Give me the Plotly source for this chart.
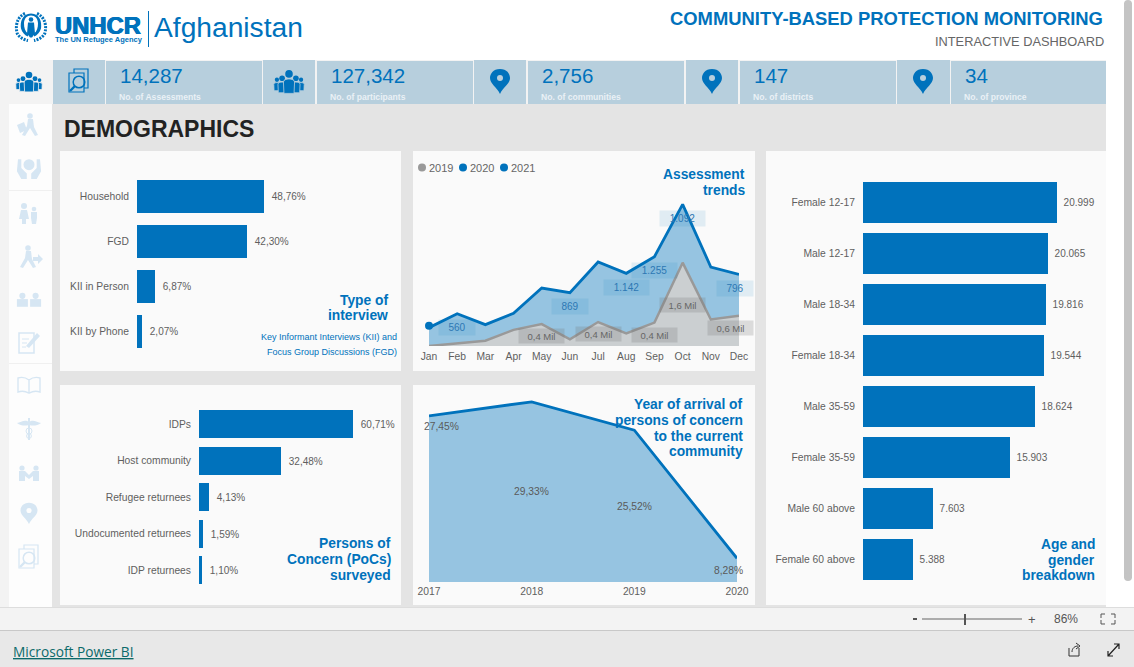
import plotly.graph_objects as go
import re

W, H = 1134, 667
BLUE = "#0072bc"
TEXT = "#5f5f5f"
FONT = "Liberation Sans, Arial, sans-serif"

interview_cats = ["Household", "FGD", "KII in Person", "KII by Phone"]
interview_vals = [48.76, 42.30, 6.87, 2.07]

poc_cats = ["IDPs", "Host community", "Refugee returnees", "Undocumented returnees", "IDP returnees"]
poc_vals = [60.71, 32.48, 4.13, 1.59, 1.10]

age_cats = ["Female 12-17", "Male 12-17", "Male 18-34", "Female 18-34", "Male 35-59", "Female 35-59", "Male 60 above", "Female 60 above"]
age_vals = [20999, 20065, 19816, 19544, 18624, 15903, 7603, 5388]

months = ["Jan", "Feb", "Mar", "Apr", "May", "Jun", "Jul", "Aug", "Sep", "Oct", "Nov", "Dec"]
assess_2020 = [275, 485, 320, 490, 870, 800, 1260, 1090, 1340, 2125, 1185, 1075]
assess_2021 = [305]
assess_2019 = [0.0, 0.05, 0.10, 0.31, 0.42, 0.13, 0.46, 0.24, 0.45, 1.60, 0.51, 0.58]
blue_labels = {"Feb": "560", "Jun": "869", "Aug": "1.142", "Sep": "1.255", "Oct": "1.092", "Dec": "796"}
gray_labels = {"May": "0,4 Mil", "Jul": "0,4 Mil", "Sep": "0,4 Mil", "Oct": "1,6 Mil", "Dec": "0,6 Mil"}

arrival_years = ["2017", "2018", "2019", "2020"]
arrival_vals = [27.45, 29.33, 25.52, 8.28]

kpi_values = ["14,287", "127,342", "2,756", "147", "34"]
kpi_labels = ["No. of Assessments", "No. of participants", "No. of communities", "No. of districts", "No. of province"]


def px(x): return x / W
def py(y): return 1 - y / H

shapes, annos = [], []

def rect(x0, y0, x1, y1, color, layer="below"):
    shapes.append(dict(type="rect", xref="paper", yref="paper", x0=px(x0), x1=px(x1), y0=py(y0), y1=py(y1),
                       fillcolor=color, line=dict(width=0), layer=layer))

def circ(cx, cy, r, color, line=None, lw=1.2, layer="below"):
    shapes.append(dict(type="circle", xref="paper", yref="paper", x0=px(cx-r), x1=px(cx+r), y0=py(cy+r), y1=py(cy-r),
                       fillcolor=color, line=dict(width=lw if line else 0, color=line or color), layer=layer))

def path(cx, cy, s, d, color=None, line=None, lw=1.2, layer="below", dash=None):
    toks = re.findall(r"[MLCZ]|-?\d+\.?\d*", d)
    out, buf = [], []
    for t in toks:
        if t in "MLCZ":
            out.append(t)
        else:
            buf.append(float(t))
            if len(buf) == 2:
                out.append(f"{px(cx+buf[0]*s):.5f},{py(cy+buf[1]*s):.5f}")
                buf = []
    ln = dict(width=lw if line else 0, color=line or "rgba(0,0,0,0)")
    if dash:
        ln["dash"] = dash
    shapes.append(dict(type="path", xref="paper", yref="paper", path=" ".join(out),
                       fillcolor=color or "rgba(0,0,0,0)", line=ln, layer=layer))

def text(x, y, t, size=10, color=TEXT, align="left", bold=False, family=FONT, shadow=None):
    shift = {"left": -2, "right": 2.5, "center": 0}[align]
    font = dict(size=size, color=color, family=family)
    if shadow:
        font["shadow"] = shadow
    annos.append(dict(xref="paper", yref="paper", x=px(x), y=py(y), xshift=shift, text=f"<b>{t}</b>" if bold else t,
                      xanchor=align, yanchor="middle", showarrow=False, align=align, font=font))

# ---- icons -------------------------------------------------------------
def person(cx, cy, s, c, bg=None):
    circ(cx, cy-6.4*s, 3*s, c)
    path(cx, cy, s, "M-4.4 0 C-4.4 -3.2 4.4 -3.2 4.4 0 L4 9 L-4 9 Z", c, bg, .8 if bg else 0)

def group(cx, cy, s, c, bg):
    for dx, k in ((-10.5, .62), (10.5, .62), (-6, .82), (6, .82)):
        person(cx+dx*s, cy+2*s, s*k, c, bg)
    person(cx, cy, s*1.1, c, bg)

def pin(cx, cy, s, c, hole):
    path(cx, cy, s, "M0 -12 C-7 -12 -10 -7 -10 -3 C-10 3 -3 6 0 13 C3 6 10 3 10 -3 C10 -7 7 -12 0 -12 Z", c)
    circ(cx, cy-3*s, 3*s, hole)

def searchdoc(cx, cy, s, c):
    path(cx, cy, s, "M-5 -8 L-5 -12 L9 -12 L9 7 L5 7", None, c, 1.2)
    path(cx, cy, s, "M-10 -8 L5 -8 L5 11 L-10 11 Z", None, c, 1.2)
    circ(cx, cy+1*s, 5.8*s, "rgba(0,0,0,0)", c, 1.5)
    path(cx, cy, s, "M-4 5 L-9 10", None, c, 2.4)

def walker(cx, cy, s, c, arrow=False):
    circ(cx+1*s, cy-9*s, 2.8*s, c)
    path(cx, cy, s, "M-1 -6 L4 -6 L5 2 L9 10 L6 11 L1 3 L-4 11 L-7 10 L-2 1 Z", c)
    if arrow:
        path(cx, cy, s, "M6 0 L11 0 L11 -3 L16 2 L11 7 L11 4 L6 4 Z", c)
    else:
        path(cx, cy, s, "M-12 0 L-5 -3 L-2 5 L-9 8 Z", c)

def hands(cx, cy, s, c):
    circ(cx, cy-3*s, 5*s, c)
    path(cx, cy, s, "M-10 -8 L-7 -8 L-7 0 L-2 5 L-2 10 L-7 10 L-11 3 Z", c)
    path(cx, cy, s, "M10 -8 L7 -8 L7 0 L2 5 L2 10 L7 10 L11 3 Z", c)

def family(cx, cy, s, c):
    circ(cx-5*s, cy-7*s, 3*s, c)
    path(cx, cy, s, "M-8 -3 L-2 -3 L0 6 L-3 6 L-3 11 L-7 11 L-7 6 L-10 6 Z", c)
    circ(cx+5*s, cy-4*s, 2.3*s, c)
    path(cx, cy, s, "M2 -1 L8 -1 L8 5 L7 11 L3 11 L2 5 Z", c)

def talk(cx, cy, s, c):
    for dx in (-6, 6):
        circ(cx+dx*s, cy-2*s, 2.8*s, c)
        path(cx+dx*s, cy, s, "M-5 1 L5 1 L5 8 L-5 8 Z", c)

def docpen(cx, cy, s, c):
    path(cx, cy, s, "M-9 -9 L6 -9 L6 11 L-9 11 Z", None, c, 1.5)
    path(cx, cy, s, "M-6 -3 L1 -3 M-6 1 L-1 1 M-6 5 L-2 5", None, c, 1)
    path(cx, cy, s, "M-2 4 L9 -9 L12 -6 L1 6 Z", c)

def book(cx, cy, s, c):
    path(cx, cy, s, "M0 -5 C-4 -8 -8 -8 -11 -7 L-11 7 C-8 6 -4 6 0 8 C4 6 8 6 11 7 L11 -7 C8 -8 4 -8 0 -5 L0 8", None, c, 1.4)

def caduceus(cx, cy, s, c):
    path(cx, cy, s, "M-1 -10 L1 -10 L1 12 L-1 12 Z", c)
    path(cx, cy, s, "M0 -6 C-4 -9 -8 -6 -12 -5 C-8 -2 -4 -2 0 -3 C4 -2 8 -2 12 -5 C8 -6 4 -9 0 -6 Z", c)
    circ(cx, cy+3*s, 3*s, "rgba(0,0,0,0)", c, 1)
    circ(cx, cy+8*s, 2.4*s, "rgba(0,0,0,0)", c, 1)

def handshake(cx, cy, s, c):
    for dx in (-7, 7):
        circ(cx+dx*s, cy-4*s, 2.6*s, c)
    path(cx, cy, s, "M-10 -1 L-4 -1 L0 3 L4 -1 L10 -1 L10 9 L4 9 L4 4 L0 7 L-4 4 L-4 9 L-10 9 Z", c)

# ---- page frame --------------------------------------------------------
rect(0, 0, W, H, "#ffffff")
rect(0, 60, 1106, 607, "#f3f3f3")
rect(52, 104, 1106, 607, "#e4e4e4")
rect(9, 104, 52, 607, "#fdfdfd")
for yy in (190, 363):
    rect(9, yy, 52, yy+1, "#f0f0f0")
rect(1124, 3, 1132, 578, "#c4c4c4")
circ(1128, 4, 4, "#c4c4c4")
circ(1128, 577, 4, "#c4c4c4")
rect(0, 607, W, 630, "#f3f3f3")
rect(0, 630, W, 667, "#e8e8e8")
rect(0, 607, W, 608, "#dddddd")
rect(0, 630, W, 631, "#c8c8c8")

# KPI tiles
KPI = "#b7cfdd"
tiles = [(53, 105, 106, 262), (263, 315, 317, 473), (474, 526, 528, 684), (686, 738, 740, 896), (897, 950, 951, 1106)]
for (a, b, c, d), v, l in zip(tiles, kpi_values, kpi_labels):
    rect(a, 60, b, 104, KPI)
    rect(c, 61, d, 104, KPI)
    text(c+14, 76, v, size=20.5, color=BLUE)
    text(c+13, 97, l, size=8.6, color="#eaf1f6", bold=True)
group(29, 82, 1.0, BLUE, "#f3f3f3")
searchdoc(79, 81, 1.0, BLUE)
group(289, 82, 1.15, BLUE, KPI)
pin(500, 81, 1.0, BLUE, KPI)
pin(712, 81, 1.0, BLUE, KPI)
pin(923, 81, 1.0, BLUE, KPI)

# Sidebar icons
SB = "#d6e6f3"
walker(29, 125, 1.0, SB)
hands(29, 168, 1.1, SB)
family(29, 213, 1.0, SB)
walker(27, 257, 1.0, SB, arrow=True)
talk(29, 298, 1.1, SB)
docpen(28, 342, 1.0, SB)
book(29, 385, 1.0, SB)
caduceus(29, 428, 1.0, SB)
handshake(29, 472, 1.0, SB)
pin(29, 513, .85, SB, "#fdfdfd")
searchdoc(29, 557, 1.0, SB)

# Cards
for x0, y0, x1, y1 in [(60, 151, 401, 371), (60, 385, 401, 605), (413, 151, 755, 371), (413, 385, 755, 605), (766, 151, 1106, 605)]:
    rect(x0, y0, x1, y1, "#fafafa")

# Header emblem
EC = (31, 26.5)
path(*EC, 1, "M-6 -13 C-13 -10 -16 -2 -14 6 C-13 10 -8 13 -3 14", None, BLUE, 3, dash="2px,1.2px")
path(*EC, 1, "M6 -13 C13 -10 16 -2 14 6 C13 10 8 13 3 14", None, BLUE, 3, dash="2px,1.2px")
path(*EC, 1, "M0 -13 C-9 -13 -11 -4 -10 2 C-9 6 -6 9 -3 10 L-3 7 C-6 5 -7 1 -7 -3 C-7 -8 -4 -11 0 -11 C4 -11 7 -8 7 -3 C7 1 6 5 3 7 L3 10 C6 9 9 6 10 2 C11 -4 9 -13 0 -13 Z", BLUE)
circ(EC[0], EC[1]-7, 2.3, BLUE)
path(*EC, 1, "M-3 -4 L3 -4 L4 7 L1 11 L-1 11 L-4 7 Z", BLUE)
text(55, 25, "UNHCR", size=23.8, color=BLUE, bold=True, shadow=f"0.6px 0 0 {BLUE}, -0.6px 0 0 {BLUE}")
text(55, 39, "The UN Refugee Agency", size=7.5, color=BLUE, bold=True)
rect(148, 11, 149, 47, BLUE)
text(154, 27, "Afghanistan", size=28.2, color=BLUE)
text(1102, 18, "COMMUNITY-BASED PROTECTION MONITORING", size=18.4, color=BLUE, align="right", bold=True)
text(1103, 42, "INTERACTIVE DASHBOARD", size=12.8, color="#666666", align="right")
text(64, 129, "DEMOGRAPHICS", size=23, color="#222222", bold=True)

# Card titles
def title(xr, ys, lines, size=13.8):
    for y, l in zip(ys, lines):
        text(xr, y, l, size=size, color=BLUE, align="right", bold=True)

title(387, [300, 316], ["Type of", "interview"])
text(396, 337, "Key Informant Interviews (KII) and", size=9, color=BLUE, align="right")
text(396, 352, "Focus Group Discussions (FGD)", size=9, color=BLUE, align="right")
title(390, [543, 559, 575], ["Persons of", "Concern (PoCs)", "surveyed"])
title(744, [174, 190], ["Assessment", "trends"])
title(742, [404, 420, 436, 451], ["Year of arrival of", "persons of concern", "to the current", "community"])
title(1094, [544, 560, 575], ["Age and", "gender", "breakdown"])

# Legend
for x, lab, c in [(422, "2019", "#999999"), (463, "2020", BLUE), (504, "2021", BLUE)]:
    circ(x, 167.5, 4, c)
    text(x+7, 167.5, lab, size=11, color="#666666")

# Footer
annos.append(dict(xref="paper", yref="paper", x=px(13), y=py(651), xshift=-2, xanchor="left", yanchor="middle", showarrow=False,
                  text="<u>Microsoft Power BI</u>", font=dict(size=13.7, color="#0b6a6a", family="Open Sans, sans-serif")))
rect(913, 618, 917, 620, "#555555")
rect(922, 618.5, 1022, 619.5, "#666666")
rect(964, 614, 966, 625, "#555555")
text(1032, 619, "+", size=13, color="#555555", align="center")
text(1066, 619, "86%", size=12, color="#555555", align="center")
path(1108, 619, 1, "M-7 -5 L-3 -5 M3 -5 L7 -5 L7 -1 M7 1 L7 5 L3 5 M-3 5 L-7 5 L-7 1 M-7 -1 L-7 -5", None, "#555555", 1)
path(1074, 650, 1, "M-5 -2 L-5 6 L5 6 L5 -2 M-2 2 C-2 -2 1 -4 4 -4 M2 -7 L6 -4 L2 -1", None, "#333333", 1)
path(1113, 650, 1, "M-5 6 L6 -6 M1 -6 L6 -6 L6 -1 M-5 1 L-5 6 L0 6", None, "#222222", 1.2)

# ---- charts ------------------------------------------------------------
fig = go.Figure()

def fmt_pct(v):
    return "\u00a0\u2009" + f"{v:.2f}".replace(".", ",") + "%"

def fmt_int(v):
    return "\u00a0\u200a" + f"{v:,}".replace(",", ".")

def hbar(cats, vals, labels, xa, ya, dom_x, dom_y, xmax, gap):
    fig.add_trace(go.Bar(y=cats, x=vals, orientation="h", text=labels, textposition="outside", cliponaxis=False,
                         textfont=dict(size=10, color=TEXT, family=FONT), marker=dict(color=BLUE, line=dict(width=0)),
                         xaxis=xa, yaxis=ya, showlegend=False, width=1-gap))
    n_x = xa.replace("x", "xaxis")
    n_y = ya.replace("y", "yaxis")
    fig.layout[n_x] = dict(domain=[px(dom_x[0]), px(dom_x[1])], range=[0, xmax], visible=False, anchor=ya, fixedrange=True,
                           automargin=False)
    fig.layout[n_y] = dict(domain=[py(dom_y[1]), py(dom_y[0])], autorange="reversed", anchor=xa, showline=False, ticks="",
                           ticklen=0, tickfont=dict(size=10.3, color=TEXT, family=FONT), showgrid=False, zeroline=False,
                           ticklabelstandoff=7, fixedrange=True, automargin=False)

hbar(interview_cats, interview_vals, [fmt_pct(v) for v in interview_vals], "x", "y", (137, 395), (173.5, 353.5), 48.76*258/127, .245)
hbar(poc_cats, poc_vals, [fmt_pct(v) for v in poc_vals], "x2", "y2", (199, 395), (406, 588.5), 60.71*196/154, .235)
hbar(age_cats, age_vals, [fmt_int(v) for v in age_vals], "x3", "y3", (863, 1100), (176.5, 584.5), 20999*237/194, .215)

# assessment trends
AX_L, AX_R, AX_B = 429, 739, 346
AX_T = 190
blue_max = 5.0 * (AX_B-AX_T) * 3
gray_max = 1.6 / 250 * (AX_B-AX_T) * 3
fig.add_trace(go.Scatter(x=months, y=assess_2020, mode="lines", fill="tozeroy", fillcolor="rgba(0,114,188,0.40)",
                         line=dict(color=BLUE, width=2.8), xaxis="x4", yaxis="y4", showlegend=False, name="2020"))
fig.add_trace(go.Scatter(x=months[:1], y=assess_2021, mode="markers", marker=dict(color=BLUE, size=8),
                         xaxis="x4", yaxis="y4", showlegend=False, name="2021", cliponaxis=False))
fig.add_trace(go.Scatter(x=months, y=assess_2019, mode="lines", fill="tozeroy", fillcolor="rgba(207,207,207,0.92)",
                         line=dict(color="#999999", width=2.5), xaxis="x4", yaxis="y5", showlegend=False, name="2019"))
fig.update_layout(
    xaxis4=dict(domain=[px(AX_L), px(AX_R)], range=[0, 11], type="category", categoryorder="array", categoryarray=months,
                anchor="y4", showline=False, ticks="", showgrid=False, zeroline=False, tickfont=dict(size=10.3, color=TEXT, family=FONT),
                ticklabelstandoff=3, fixedrange=True, automargin=False),
    yaxis4=dict(domain=[py(AX_B), py(AX_T)], range=[0, blue_max], visible=False, anchor="x4", fixedrange=True, automargin=False),
    yaxis5=dict(domain=[py(AX_B), py(AX_T)], range=[0, gray_max], visible=False, overlaying="y4", anchor="x4", fixedrange=True, automargin=False),
)
for m, lab in blue_labels.items():
    i = months.index(m)
    annos.append(dict(xref="x4", yref="y4", x=m, y=assess_2020[i], yshift=-14, xshift=-4 if m == "Dec" else 0,
                      text=lab, showarrow=False, bgcolor="rgba(0,114,188,0.10)", borderpad=0,
                      width=45 if "." in lab else 36, height=15,
                      font=dict(size=10, color="#2d78b4", family=FONT)))
for m, lab in gray_labels.items():
    i = months.index(m)
    annos.append(dict(xref="x4", yref="y5", x=m, y=assess_2019[i], yshift=-42 if m == "Oct" else -12,
                      xshift=-9 if m == "Dec" else 0, text=lab, showarrow=False, bgcolor="rgba(110,110,110,0.22)", borderpad=0,
                      width=45, height=14,
                      font=dict(size=9.5, color="#666666", family=FONT)))

# year of arrival
BASE = 5.1
PER_PX = (arrival_vals[1]-arrival_vals[2]) / ((540-455)/3)
top_val = arrival_vals[1] + PER_PX * 10
AB = 582
AT = AB - (top_val-BASE)/PER_PX
fig.add_trace(go.Scatter(x=arrival_years, y=arrival_vals, mode="lines", fill="tozeroy", fillcolor="rgba(0,114,188,0.40)",
                         line=dict(color=BLUE, width=2.8), xaxis="x5", yaxis="y6", showlegend=False, cliponaxis=True))
fig.update_layout(
    xaxis5=dict(domain=[px(429), px(737)], range=[0, 3], type="category", categoryorder="array", categoryarray=arrival_years,
                anchor="y6", showline=False, ticks="", showgrid=False, zeroline=False, tickfont=dict(size=10.3, color=TEXT, family=FONT),
                ticklabelstandoff=2, fixedrange=True, automargin=False),
    yaxis6=dict(domain=[py(AB), py(AT)], range=[BASE, top_val], visible=False, anchor="x5", fixedrange=True, automargin=False),
)
for i, y in enumerate(arrival_years):
    mid = (arrival_vals[i]+BASE)/2
    pct = f"{arrival_vals[i]:.2f}".replace(".", ",") + "%"
    if i == 0:
        annos.append(dict(xref="x5", yref="y6", x=i, y=arrival_vals[i], yshift=-11, xshift=12, text=pct, showarrow=False,
                          font=dict(size=10.3, color="#5a5a5a", family=FONT)))
    else:
        annos.append(dict(xref="x5", yref="y6", x=i, y=mid, xshift=-9 if i == 3 else 0, text=pct, showarrow=False,
                          font=dict(size=10.3, color="#5a5a5a", family=FONT)))

fig.update_layout(width=W, height=H, margin=dict(l=0, r=0, t=0, b=0, autoexpand=False), paper_bgcolor="#ffffff", plot_bgcolor="rgba(0,0,0,0)",
                  bargap=0, shapes=shapes, annotations=annos, showlegend=False, font=dict(family=FONT),
                  hovermode=False)
fig.write_html("out.html", config={"displayModeBar": False},
               post_script="document.body.style.margin='0';document.documentElement.style.overflow='hidden';")
